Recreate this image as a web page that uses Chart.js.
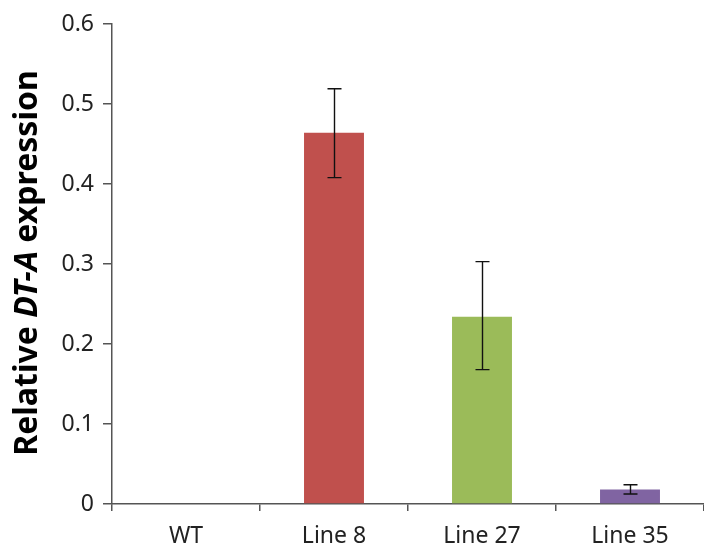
<!DOCTYPE html>
<html>
<head>
<meta charset="utf-8">
<script src="https://cdn.jsdelivr.net/npm/chart.js@4"></script>
<style>
html,body{margin:0;padding:0;background:#fff;}
#wrap{width:704px;height:547px;position:relative;}
</style>
</head>
<body>
<div id="wrap"><canvas id="c" width="704" height="547"></canvas></div>
<script>
const categories = ["WT", "Line 8", "Line 27", "Line 35"];
const values = [0, 0.464, 0.234, 0.018];
const errLow = [0, 0.408, 0.168, 0.0125];
const errHigh = [0, 0.519, 0.303, 0.024];
const barColors = ["#C0504D", "#C0504D", "#9BBB59", "#8064A2"];
const yTicks = [0, 0.1, 0.2, 0.3, 0.4, 0.5, 0.6];
const titleParts = [["Relative ", "bold"], ["DT-A", "italic bold"], [" expression", "bold"]];

const FONT = "'Noto Sans', sans-serif";

const errorBars = {
  id: 'errorBars',
  afterDatasetsDraw(chart) {
    const ctx = chart.ctx;
    const x = chart.scales.x, y = chart.scales.y;
    ctx.save();
    ctx.strokeStyle = '#111';
    ctx.lineWidth = 1.4;
    categories.forEach((c, i) => {
      if (errHigh[i] === errLow[i]) return;
      const px = Math.round(x.getPixelForValue(i)) + 0.5;
      const t = y.getPixelForValue(errHigh[i]);
      const b = y.getPixelForValue(errLow[i]);
      ctx.beginPath();
      ctx.moveTo(px, t); ctx.lineTo(px, b);
      ctx.moveTo(px - 7, t); ctx.lineTo(px + 7, t);
      ctx.moveTo(px - 7, b); ctx.lineTo(px + 7, b);
      ctx.stroke();
    });
    ctx.restore();
  }
};

const yTitle = {
  id: 'yTitle',
  afterDraw(chart) {
    const ctx = chart.ctx;
    ctx.save();
    ctx.fillStyle = '#000';
    ctx.textBaseline = 'alphabetic';
    let total = 0;
    titleParts.forEach(([t, s]) => { ctx.font = s + " 32px " + FONT; total += ctx.measureText(t).width; });
    ctx.translate(37, 263);
    ctx.rotate(-Math.PI / 2);
    let xx = -total / 2;
    titleParts.forEach(([t, s]) => {
      ctx.font = s + " 32px " + FONT;
      ctx.textAlign = 'left';
      ctx.fillText(t, xx, 0);
      xx += ctx.measureText(t).width;
    });
    ctx.restore();
  }
};

new Chart(document.getElementById('c'), {
  type: 'bar',
  data: {
    labels: categories,
    datasets: [{
      data: values,
      backgroundColor: barColors,
      borderWidth: 0,
      barPercentage: 0.405,
      categoryPercentage: 1
    }]
  },
  options: {
    responsive: false,
    animation: false,
    devicePixelRatio: 1,
    layout: { padding: { left: 0, top: 24, right: 0, bottom: 0 } },
    plugins: { legend: { display: false }, tooltip: { enabled: false } },
    scales: {
      x: {
        grid: { display: true, drawOnChartArea: false, drawTicks: true, tickLength: 7, color: '#555', offset: true, lineWidth: 1.5 },
        border: { display: true, color: '#555', width: 1.5 },
        ticks: { color: '#222', font: { family: FONT, size: 23 }, padding: 12 },
        afterFit(s) { s.height = 43; }
      },
      y: {
        min: 0, max: 0.6,
        afterBuildTicks(s) { s.ticks = yTicks.map(v => ({ value: v })); },
        grid: { display: true, drawOnChartArea: false, drawTicks: true, tickLength: 9, color: '#555', lineWidth: 1.5 },
        border: { display: true, color: '#555', width: 1.5 },
        ticks: { color: '#222', font: { family: FONT, size: 23 }, padding: 9,
          callback: (v) => (v === 0 ? '0' : v.toFixed(1)) },
        afterFit(s) { s.width = 112; }
      }
    }
  },
  plugins: [errorBars, yTitle]
});
</script>
</body>
</html>
